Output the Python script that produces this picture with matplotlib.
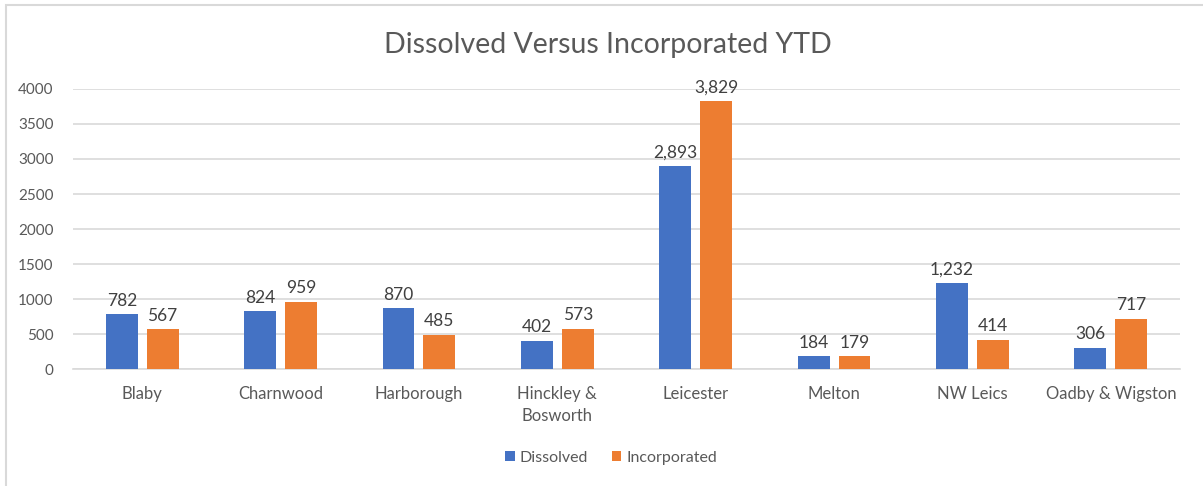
import numpy as np
import matplotlib.pyplot as plt
from matplotlib.patches import Rectangle
from matplotlib.ticker import MultipleLocator

plt.rcParams["font.family"] = ["Lato", "DejaVu Sans"]

districts = ["Blaby", "Charnwood", "Harborough", "Hinckley &\nBosworth",
             "Leicester", "Melton", "NW Leics", "Oadby & Wigston"]
dissolved = [782, 824, 870, 402, 2893, 184, 1232, 306]
incorporated = [567, 959, 485, 573, 3829, 179, 414, 717]

blue = "#4472C4"
orange = "#ED7D31"
grey = "#595959"

fig = plt.figure(figsize=(12.03, 4.86), dpi=100)
fig.patches.append(Rectangle((6 / 1203, -0.1), 1.2, 1 - 5 / 486 + 0.1,
                             transform=fig.transFigure, fill=False,
                             edgecolor="#D9D9D9", lw=1.5))

ax = fig.add_axes([73 / 1203, 1 - 369 / 486, (1180 - 73) / 1203, (369 - 89) / 486])

x = np.arange(len(districts))
w = 0.23
gap = 0.065
b1 = ax.bar(x - (w + gap) / 2, dissolved, w, color=blue, label="Dissolved", zorder=3)
b2 = ax.bar(x + (w + gap) / 2, incorporated, w, color=orange, label="Incorporated", zorder=3)

for bars in (b1, b2):
    for r in bars:
        h = r.get_height()
        ax.text(r.get_x() + r.get_width() / 2, h + 80, f"{h:,.0f}",
                ha="center", va="bottom", fontsize=12.5, color="#404040")

ax.set_xlim(-0.5, len(districts) - 0.5)
ax.set_ylim(0, 4000)
ax.yaxis.set_major_locator(MultipleLocator(500))
ax.grid(axis="y", color="#D9D9D9", lw=1.2, zorder=0)
for s in ["top", "right", "left"]:
    ax.spines[s].set_visible(False)
ax.spines["bottom"].set_color("#D9D9D9")
ax.spines["bottom"].set_linewidth(1.2)
ax.tick_params(length=0, labelsize=11, labelcolor=grey)
ax.tick_params(axis="x", pad=12, labelsize=12)
ax.tick_params(axis="y", pad=14)
ax.set_xticks(x)
ax.set_xticklabels(districts, va="top", linespacing=1.5)

fig.text(0.505, 1 - 45 / 486, "Dissolved Versus Incorporated YTD",
         ha="center", va="center", fontsize=20.5, color=grey)

fig.legend(loc="center", bbox_to_anchor=(0.508, 1 - 458 / 486), ncol=2,
           frameon=False, fontsize=11.5, labelcolor=grey, handlelength=0.6,
           handleheight=0.6, handletextpad=0.3, columnspacing=1.5)

fig.savefig("out.png", dpi=100)
